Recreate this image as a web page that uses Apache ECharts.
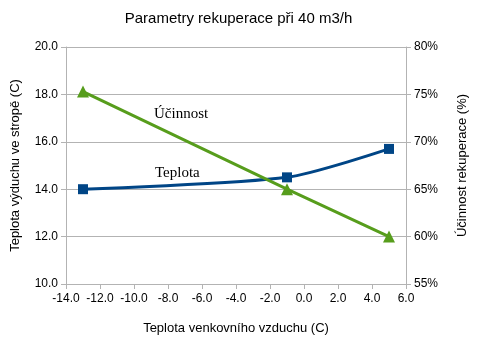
<!DOCTYPE html>
<html><head><meta charset="utf-8">
<script src="https://cdn.jsdelivr.net/npm/echarts@6/dist/echarts.min.js"></script>
<style>html,body{margin:0;padding:0;background:#fff}#c{width:477px;height:344px}</style>
</head><body><div id="c"></div>
<script>
var outdoorTemp = [-13, -1, 5];
var teplota = [14.0, 14.5, 15.7];
var ucinnost = [75.3, 65.0, 60.0];
var xTicks = {min: -14, max: 6, interval: 2};

var chart = echarts.init(document.getElementById('c'));
function axisLine(){ return {show: true, onZero: false, lineStyle: {color: '#b3b3b3', width: 1}}; }
var axisTick = {show: true, length: 5, lineStyle: {color: '#b3b3b3'}};
var lbl = {color: '#000', fontFamily: 'Liberation Sans', fontSize: 12};
chart.setOption({
  animation: false,
  title: {text: 'Parametry rekuperace při 40 m3/h', left: 'center', top: 6,
    textStyle: {fontFamily: 'Liberation Sans', fontSize: 15, fontWeight: 'normal', color: '#000'}},
  grid: {left: 66, right: 70, top: 47, bottom: 60},
  xAxis: {type: 'value', min: xTicks.min, max: xTicks.max, interval: xTicks.interval,
    axisLine: axisLine(), axisTick: axisTick, splitLine: {show: false},
    axisLabel: Object.assign({formatter: function(v){return v.toFixed(1);}, margin: 9}, lbl),
    name: 'Teplota venkovního vzduchu (C)', nameLocation: 'middle', nameGap: 38,
    nameTextStyle: {fontFamily: 'Liberation Sans', fontSize: 13, color: '#000'}},
  yAxis: [
    {type: 'value', min: 10, max: 20, interval: 2,
      axisLine: axisLine(), axisTick: axisTick,
      splitLine: {show: true, lineStyle: {color: '#b3b3b3'}},
      axisLabel: Object.assign({formatter: function(v){return v.toFixed(1);}}, lbl),
      name: 'Teplota výduchu ve stropě (C)', nameLocation: 'middle', nameGap: 44, nameRotate: 90,
      nameTextStyle: {fontFamily: 'Liberation Sans', fontSize: 13, color: '#000'}},
    {type: 'value', min: 55, max: 80, interval: 5, position: 'right',
      axisLine: axisLine(), axisTick: axisTick, splitLine: {show: false},
      axisLabel: Object.assign({formatter: '{value}%'}, lbl),
      name: 'Účinnost rekuperace (%)', nameLocation: 'middle', nameGap: 50, nameRotate: 90,
      nameTextStyle: {fontFamily: 'Liberation Sans', fontSize: 13, color: '#000'}}
  ],
  series: [
    {name: 'Teplota', type: 'line', yAxisIndex: 0, smooth: 0.25,
      data: outdoorTemp.map(function(x, i){return [x, teplota[i]];}),
      symbol: 'rect', symbolSize: 10,
      lineStyle: {color: '#004586', width: 3}, itemStyle: {color: '#004586'}},
    {name: 'Účinnost', type: 'line', yAxisIndex: 1,
      data: outdoorTemp.map(function(x, i){return [x, ucinnost[i]];}),
      symbol: 'triangle', symbolSize: 12,
      lineStyle: {color: '#579d1c', width: 3}, itemStyle: {color: '#579d1c'}}
  ],
  graphic: [
    {type: 'text', left: 154, top: 107, style: {text: 'Účinnost', font: '15px "Liberation Serif"', fill: '#000'}},
    {type: 'text', left: 155, top: 166, style: {text: 'Teplota', font: '15px "Liberation Serif"', fill: '#000'}}
  ]
});
</script></body></html>
